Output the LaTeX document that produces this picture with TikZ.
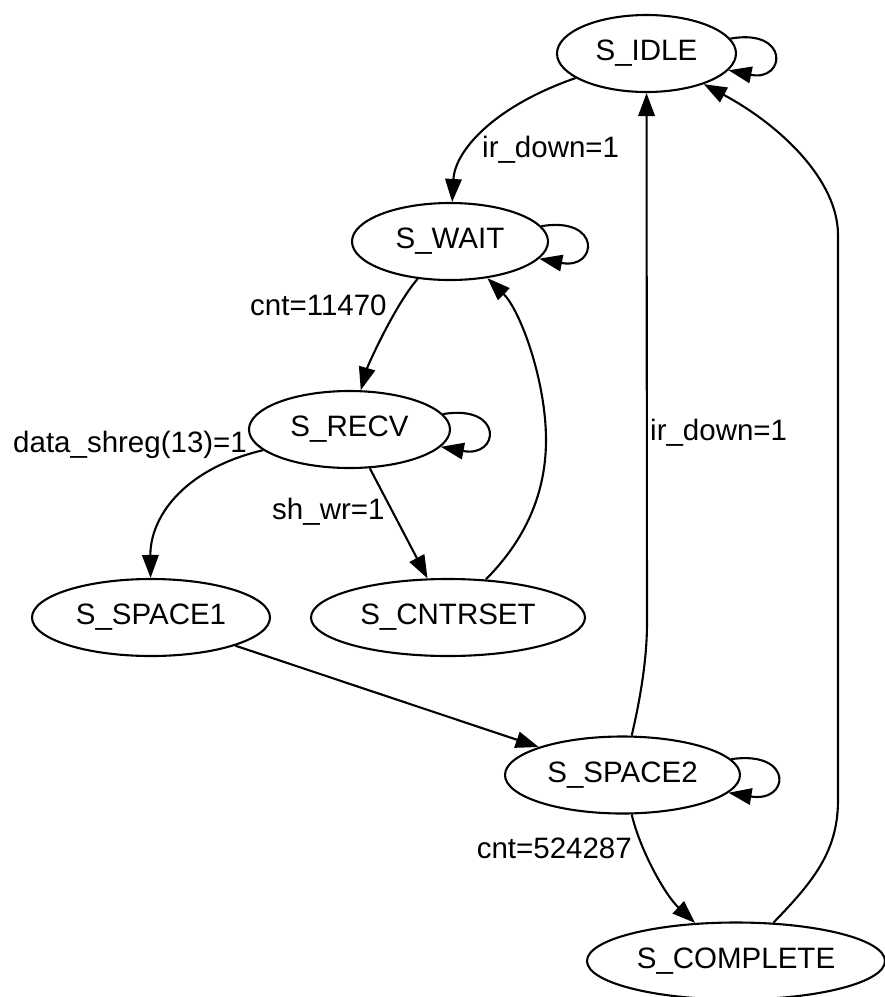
\documentclass[tikz,border=0pt]{standalone}
\usepackage{fontspec}
\setmainfont{Liberation Sans}
\usetikzlibrary{arrows.meta,shapes.geometric}
\begin{document}
\begin{tikzpicture}[x=1pt,y=-1pt,
  state/.style={ellipse,draw,line width=2.1pt,inner sep=0pt,minimum height=77pt,font=\fontsize{29.5}{35}\selectfont},
  lbl/.style={inner sep=0pt,font=\fontsize{29.5}{35}\selectfont},
  edge/.style={line width=2.1pt,-{Triangle[length=23pt,width=16.5pt]}}]
\useasboundingbox (0,0) rectangle (885,997);

\node[state,minimum width=179pt] (idle) at (646.5,53.5) {S\_IDLE};
\node[state,minimum width=196pt] (wait) at (450,241.5) {S\_WAIT};
\node[state,minimum width=201pt] (recv) at (349.5,429.5) {S\_RECV};
\node[state,minimum width=238pt] (space1) at (151,617.5) {S\_SPACE1};
\node[state,minimum width=274pt] (cntrset) at (448,617.5) {S\_CNTRSET};
\node[state,minimum width=235pt] (space2) at (622.5,775) {S\_SPACE2};
\node[state,minimum width=298pt] (complete) at (736,961) {S\_COMPLETE};

\coordinate (v1) at (647,623);
\coordinate (v2) at (838,800);
\coordinate (v3) at (838,235);
\coordinate (v4) at (546,440);

% self loops
\draw[edge] (idle) .. controls (790,28) and (786,82) .. (idle);
\draw[edge] (wait) .. controls (602,216) and (598,270) .. (wait);
\draw[edge] (recv) .. controls (504,404) and (500,458) .. (recv);
\draw[edge] (space2) .. controls (794,750) and (790,803) .. (space2);

% transitions
\draw[edge] (idle) .. controls (495,106) and (455,150) .. (wait);
\draw[edge] (wait) .. controls (395,305) and (368,365) .. (recv);
\draw[edge] (cntrset) .. controls (520,545) and (546,500) .. (v4)
            .. controls (546,380) and (520,310) .. (wait);
\draw[edge] (recv) .. controls (180,470) and (150,520) .. (space1);
\draw[edge] (recv) -- (cntrset);
\draw[edge] (space1) -- (space2);
\draw[edge] (space2) .. controls (640,700) and (647,660) .. (v1) -- (idle);
\draw[edge] (space2) .. controls (640,850) and (665,895) .. (complete);
\draw[edge] (complete) .. controls (815,880) and (838,850) .. (v2) -- (v3)
            .. controls (838,180) and (780,125) .. (idle);

% labels
\node[lbl,anchor=base west] (l1) at (482,157) {ir\_down=1};
\node[lbl,anchor=base west] (l2) at (250,315) {cnt=11470};
\node[lbl,anchor=base west] (l3) at (13,452) {data\_shreg(13)=1};
\node[lbl,anchor=base west] (l4) at (272,519) {sh\_wr=1};
\node[lbl,anchor=base west] (l5) at (650,440) {ir\_down=1};
\node[lbl,anchor=base east] (l6) at (632,858) {cnt=524287};
\end{tikzpicture}
\end{document}
